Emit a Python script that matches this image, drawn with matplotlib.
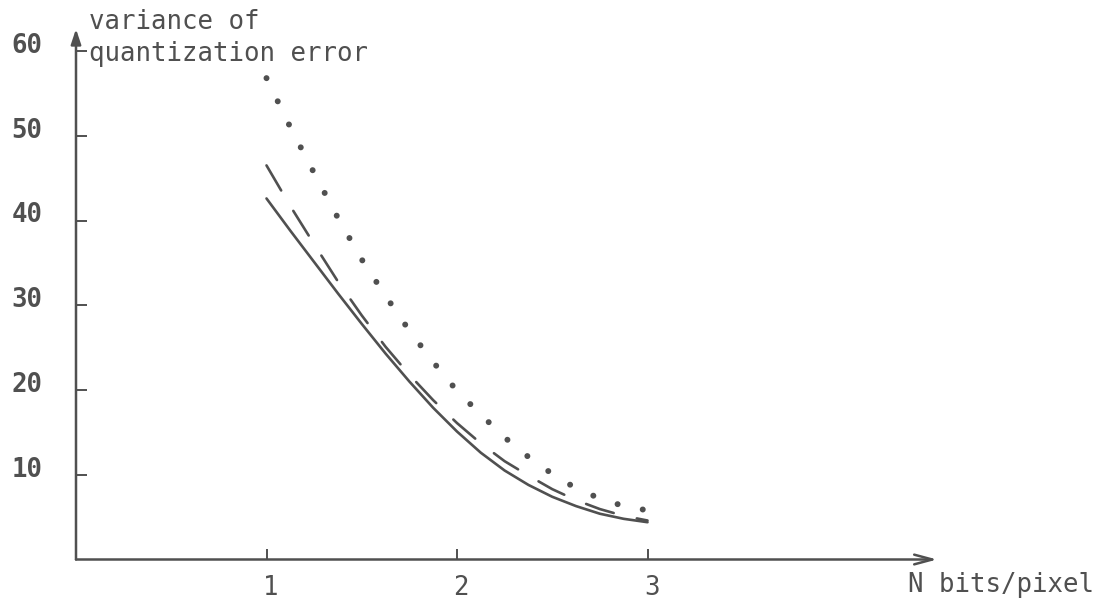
import matplotlib
matplotlib.use("Agg")
import matplotlib.pyplot as plt
from matplotlib.transforms import ScaledTranslation

# ---- data ----
n_bits = [1.0, 1.125, 1.25, 1.375, 1.5, 1.625, 1.75, 1.875, 2.0,
          2.125, 2.25, 2.375, 2.5, 2.625, 2.75, 2.875, 3.0]
var_solid = [42.6, 38.8, 35.1, 31.4, 27.8, 24.3, 21.0, 17.9, 15.1,
             12.6, 10.5, 8.8, 7.4, 6.3, 5.4, 4.8, 4.4]
var_dashed = [46.5, 41.7, 37.2, 32.8, 28.8, 25.1, 21.8, 18.8, 16.1,
              13.7, 11.6, 9.9, 8.3, 7.0, 5.95, 5.15, 4.6]
var_dotted = [56.8, 51.0, 45.6, 40.3, 35.4, 31.1, 27.0, 23.3, 19.9,
              17.1, 14.4, 12.1, 10.1, 8.4, 7.2, 6.3, 5.8]

x_ticks = [1, 2, 3]
x_tick_labels = ["1", "2", "3"]
y_ticks = [10, 20, 30, 40, 50, 60]
y_tick_labels = ["10", "20", "30", "40", "50", "60"]

y_label = "variance of\nquantization error"
x_label = "N bits/pixel"

# ---- figure ----
W, H = 1103, 608
fig = plt.figure(figsize=(W / 100, H / 100), dpi=100)
fig.patch.set_facecolor("white")

x0_px, xunit_px = 76, 190.5
y0_px, yunit_px = 559.5, 8.475
xmax, ymax = 4.6, 64
ax = fig.add_axes([x0_px / W, (H - y0_px) / H,
                   xmax * xunit_px / W, ymax * yunit_px / H])
ax.set_xlim(0, xmax)
ax.set_ylim(0, ymax)
ax.set_facecolor("none")

ink = "#505050"
font = ["DejaVu Sans Mono"]

for s in ax.spines.values():
    s.set_visible(False)

# curves
ax.plot(n_bits, var_solid, color=ink, lw=1.9, solid_capstyle="round",
        solid_joinstyle="round", clip_on=False)
ax.plot(n_bits, var_dashed, color=ink, lw=1.9, linestyle=(0, (11, 9)),
        dash_capstyle="round", clip_on=False)
ax.plot(n_bits, var_dotted, color=ink, lw=4.3, linestyle=(0, (0.01, 4.3)),
        dash_capstyle="round", clip_on=False)

# axes with arrows
ax.annotate("", xy=(4.52, 0), xytext=(0, 0),
            arrowprops=dict(arrowstyle="->,head_length=1.3,head_width=0.35",
                            lw=1.8, color=ink, shrinkA=0, shrinkB=0),
            annotation_clip=False)
ax.annotate("", xy=(0, 62.6), xytext=(0, 0),
            arrowprops=dict(arrowstyle="-|>,head_length=0.9,head_width=0.3",
                            lw=1.8, color=ink, fc=ink, shrinkA=0, shrinkB=0),
            annotation_clip=False)

# ticks
ax.set_xticks(x_ticks)
ax.set_xticklabels(x_tick_labels)
ax.set_yticks(y_ticks)
ax.set_yticklabels(y_tick_labels)
ax.tick_params(axis="both", direction="in", length=8, width=1.4,
               color=ink, labelcolor=ink, labelsize=18.5)
ax.tick_params(axis="x", pad=11)
ax.tick_params(axis="y", pad=24)
for lab in ax.get_yticklabels():
    lab.set_fontfamily(font)
    lab.set_fontweight("bold")
    lab.set_transform(lab.get_transform() +
                      ScaledTranslation(0, 8 / 100, fig.dpi_scale_trans))
for lab in ax.get_xticklabels():
    lab.set_fontfamily(font)
    lab.set_transform(lab.get_transform() +
                      ScaledTranslation(4 / 100, 0, fig.dpi_scale_trans))

# axis titles
ax.text(0.07, 65.0, y_label, ha="left", va="top", fontsize=18.5,
        family=font, color=ink, linespacing=1.3, clip_on=False)
ax.text(4.37, -3.0, x_label, ha="left", va="center", fontsize=18.5,
        family=font, color=ink, clip_on=False)

fig.savefig("out.png", dpi=100, facecolor="white")
